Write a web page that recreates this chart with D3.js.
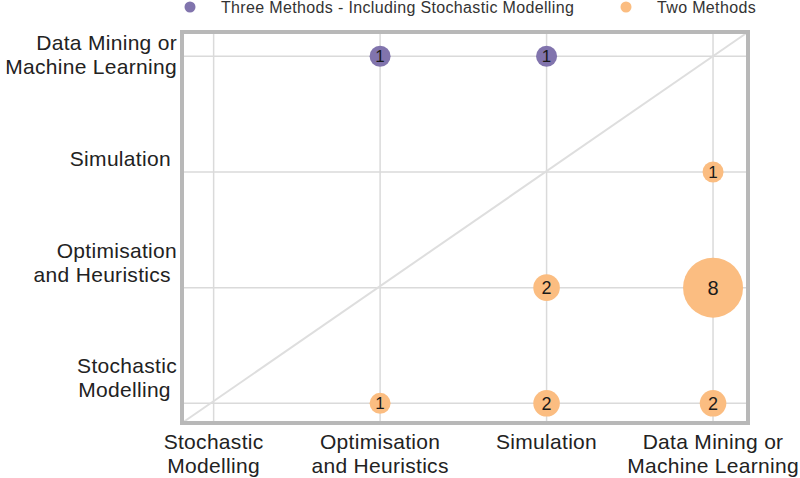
<!DOCTYPE html>
<html>
<head>
<meta charset="utf-8">
<script src="https://cdn.jsdelivr.net/npm/d3@7"></script>
<style>
  body { margin: 0; background: #fff; }
  svg text { font-family: "Liberation Sans", Arial, Helvetica, sans-serif; }
</style>
</head>
<body>
<svg id="chart" width="800" height="478"></svg>
<script>
// categories along both axes (index 0..3)
const methods = [
  ['Stochastic', 'Modelling'],
  ['Optimisation', 'and Heuristics'],
  ['Simulation'],
  ['Data Mining or', 'Machine Learning'],
];
const yLabels = [
  ['Stochastic', 'Modelling '],
  ['Optimisation', 'and Heuristics '],
  ['Simulation '],
  ['Data Mining or', 'Machine Learning'],
];

const seriesNames = ['Three Methods - Including Stochastic Modelling', 'Two Methods'];
const seriesColors = ['#8174ad', '#fbbd81'];

// [x index, y index, count]
const threeMethods = [
  [1, 3, 1],
  [2, 3, 1],
];
const twoMethods = [
  [3, 2, 1],
  [2, 1, 2],
  [3, 1, 8],
  [1, 0, 1],
  [2, 0, 2],
  [3, 0, 2],
];

const svg = d3.select('#chart');
const plotLeft = 182, plotRight = 748, plotTop = 32, plotBottom = 423;

const xScale = d3.scaleLinear().domain([-0.19, 3.21]).range([plotLeft, plotRight]);
const yScale = d3.scaleLinear().domain([-0.17, 3.21]).range([plotBottom, plotTop]);
const rScale = d3.scaleLinear().domain([1, 8]).range([10.5, 30]);
const fontScale = d3.scaleLinear().domain([1, 2, 8]).range([17, 18, 20]);

// grid lines
const grid = svg.append('g').attr('class', 'grid');
grid.selectAll('.vline')
  .data(d3.range(methods.length))
  .enter()
  .append('line')
  .attr('class', 'vline')
  .attr('x1', (d) => xScale(d))
  .attr('x2', (d) => xScale(d))
  .attr('y1', plotTop)
  .attr('y2', plotBottom)
  .style('stroke', '#dadada')
  .style('stroke-width', '1.5px');
grid.selectAll('.hline')
  .data(d3.range(yLabels.length))
  .enter()
  .append('line')
  .attr('class', 'hline')
  .attr('x1', plotLeft)
  .attr('x2', plotRight)
  .attr('y1', (d) => yScale(d))
  .attr('y2', (d) => yScale(d))
  .style('stroke', '#dadada')
  .style('stroke-width', '1.5px');

// diagonal, corner to corner
const xd = xScale.domain(), yd = yScale.domain();
svg.append('path')
  .datum([[xScale(xd[0]), yScale(yd[0])], [xScale(xd[1]), yScale(yd[1])]])
  .attr('d', d3.line())
  .style('stroke', '#dedede')
  .style('stroke-width', '2px')
  .style('fill', 'none');

// frame
svg.append('rect')
  .attr('x', plotLeft)
  .attr('y', plotTop)
  .attr('width', plotRight - plotLeft)
  .attr('height', plotBottom - plotTop)
  .style('fill', 'none')
  .style('stroke', '#b8b8b8')
  .style('stroke-width', '4px');

// bubbles
const groups = [threeMethods, twoMethods];
groups.forEach((pts, gi) => {
  const g = svg.append('g').attr('class', 'series-' + gi);
  const node = g.selectAll('g')
    .data(pts)
    .enter()
    .append('g')
    .attr('transform', (d) => `translate(${xScale(d[0])},${yScale(d[1])})`);
  node.append('circle')
    .attr('r', (d) => rScale(d[2]))
    .style('fill', seriesColors[gi]);
  node.append('text')
    .attr('text-anchor', 'middle')
    .attr('dy', '0.36em')
    .style('font-size', (d) => fontScale(d[2]) + 'px')
    .style('fill', '#1a1a1a')
    .text((d) => d[2]);
});

// x axis labels
const xl = svg.append('g').attr('class', 'x-labels');
methods.forEach((lines, i) => {
  const t = xl.append('text')
    .attr('text-anchor', 'middle')
    .style('font-size', '21px')
    .style('letter-spacing', '0.3px')
    .style('fill', '#222');
  lines.forEach((line, j) => {
    t.append('tspan')
      .attr('x', xScale(i))
      .attr('y', 449 + j * 24)
      .text(line);
  });
});

// y axis labels (top one centred on its line, others sit just above)
const yl = svg.append('g').attr('class', 'y-labels');
yLabels.forEach((lines, i) => {
  const t = yl.append('text')
    .attr('text-anchor', 'end')
    .style('font-size', '21px')
    .style('letter-spacing', '0.3px')
    .style('white-space', 'pre')
    .style('fill', '#222');
  const n = lines.length;
  const lastBase = i === yLabels.length - 1
    ? yScale(i) + 6 + (n - 1) * 12
    : yScale(i) - 6;
  lines.forEach((line, j) => {
    t.append('tspan')
      .attr('x', 177)
      .attr('y', lastBase - (n - 1 - j) * 24)
      .text(line);
  });
});

// legend
const legendX = [190, 626];
const legend = svg.append('g').attr('class', 'legend');
seriesNames.forEach((name, i) => {
  legend.append('circle')
    .attr('cx', legendX[i])
    .attr('cy', 7)
    .attr('r', 5.5)
    .style('fill', seriesColors[i]);
  legend.append('text')
    .attr('x', legendX[i] + 31)
    .attr('y', 13)
    .style('font-size', '16px')
    .style('letter-spacing', '0.35px')
    .style('fill', '#333')
    .text(name);
});
</script>
</body>
</html>
